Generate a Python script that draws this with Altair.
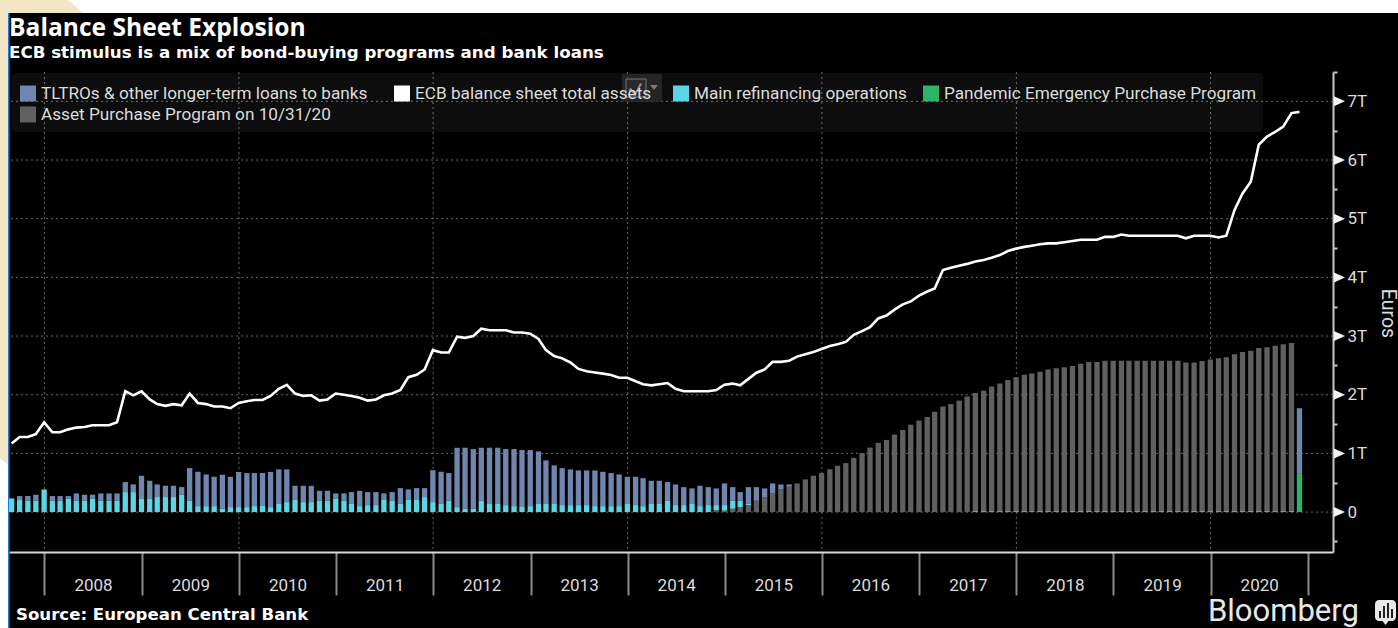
import altair as alt
import pandas as pd

# Monthly observations, trillions of euros, Aug 2007 to Nov 2020
total_assets = [
    1.17, 1.28, 1.28, 1.33, 1.53, 1.36, 1.36, 1.41, 1.44, 1.45, 1.48, 1.48, 1.48, 1.53, 2.06, 1.99,
    2.06, 1.92, 1.84, 1.81, 1.84, 1.82, 2.02, 1.86, 1.84, 1.80, 1.80, 1.77, 1.86, 1.89, 1.91, 1.91,
    1.98, 2.10, 2.17, 2.02, 1.98, 1.99, 1.90, 1.92, 2.02, 2.00, 1.98, 1.95, 1.90, 1.92, 1.99, 2.02,
    2.08, 2.30, 2.34, 2.43, 2.76, 2.72, 2.72, 2.99, 2.97, 3.00, 3.125, 3.10, 3.10, 3.10, 3.06, 3.06,
    3.04, 2.95, 2.76, 2.66, 2.62, 2.55, 2.44, 2.40, 2.38, 2.36, 2.335, 2.29, 2.29, 2.23, 2.18, 2.16,
    2.18, 2.20, 2.10, 2.06, 2.06, 2.06, 2.06, 2.08, 2.17, 2.19, 2.16, 2.27, 2.375, 2.43, 2.56, 2.56,
    2.58, 2.65, 2.69, 2.73, 2.78, 2.83, 2.86, 2.90, 3.02, 3.085, 3.15, 3.30, 3.35, 3.45, 3.54, 3.59,
    3.69, 3.76, 3.81, 4.125, 4.165, 4.20, 4.23, 4.27, 4.295, 4.335, 4.38, 4.45, 4.49, 4.52, 4.54, 4.565,
    4.58, 4.58, 4.60, 4.62, 4.64, 4.64, 4.64, 4.69, 4.69, 4.73, 4.71, 4.71, 4.71, 4.71, 4.71, 4.71,
    4.71, 4.665, 4.71, 4.71, 4.71, 4.68, 4.71, 5.15, 5.43, 5.63, 6.26, 6.40, 6.48, 6.57, 6.80, 6.82,
]
main_refi = [
    .233, .205, .193, .193, .386, .193, .193, .233, .193, .193, .233, .193, .193, .193, .341, .341,
    .233, .233, .256, .256, .256, .295, .193, .102, .102, .102, .057, .085, .085, .085, .102, .102,
    .085, .148, .170, .216, .170, .170, .193, .193, .233, .193, .148, .102, .119, .119, .216, .193,
    .148, .216, .216, .256, .170, .148, .193, .085, .057, .057, .193, .148, .148, .119, .102, .085,
    .102, .148, .148, .148, .119, .119, .119, .119, .102, .102, .102, .102, .148, .119, .102, .148,
    .148, .193, .119, .119, .148, .102, .119, .085, .097, .136, .108, .028,
] + [0.0] * 27 + [0.012] * 40 + [0.0]
longer_term = [
    .000, .068, .080, .102, .000, .080, .080, .040, .125, .102, .063, .125, .125, .125, .170, .131,
    .386, .301, .216, .193, .193, .131, .557, .585, .540, .500, .580, .517, .600, .580, .563, .563,
    .600, .580, .557, .233, .278, .278, .170, .170, .085, .125, .193, .261, .222, .222, .102, .148,
    .261, .170, .193, .153, .545, .540, .472, 1.011, 1.040, 1.017, .903, .949, .949, .955, .972, .972,
    .955, .886, .733, .648, .630, .608, .591, .591, .608, .585, .563, .540, .454, .483, .477, .386,
    .386, .318, .352, .307, .256, .347, .307, .284, .369, .233, .148, .278, .233, .148, .170, .085,
    .040,
] + [0.0] * 62 + [1.105]
asset_purchase = [0.0] * 87 + [
    .034, .023, .057, .085, .119, .193, .256, .318, .386, .432, .489, .557, .619, .665,
    .73, .79, .835, .925, 1.005, 1.10, 1.18, 1.23, 1.32, 1.40, 1.49, 1.56, 1.62, 1.71, 1.80, 1.84,
    1.90, 1.97, 2.03, 2.07, 2.14, 2.19, 2.25, 2.30, 2.34, 2.36, 2.39, 2.43, 2.45, 2.47, 2.49, 2.53,
    2.56, 2.56, 2.58, 2.58, 2.58, 2.58, 2.58, 2.58, 2.58, 2.58, 2.58, 2.58, 2.55, 2.55, 2.575, 2.60,
    2.62, 2.64, 2.69, 2.73, 2.75, 2.795, 2.81, 2.835, 2.86, 2.88, 0.0,
]
pandemic = [0.0] * 159 + [0.665]

legend_labels = [
    "TLTROs & other longer-term loans to banks",
    "ECB balance sheet total assets",
    "Main refinancing operations",
    "Pandemic Emergency Purchase Program",
    "Asset Purchase Program on 10/31/20",
]
year_labels = list(range(2008, 2022))
grid_years = [2008, 2010, 2012, 2014, 2016, 2018, 2020]
grid_levels = [0, 1, 2, 3, 4, 5, 6, 7]

BLUE, WHITE, CYAN, GREEN, GRAY = "#6f87ae", "#ffffff", "#5bd6e6", "#2db36a", "#606060"
legend_colors = [BLUE, WHITE, CYAN, GREEN, GRAY]
GRID = "#6a6a6a"
TEXT = "#dcdcdc"
FONT = "Roboto"

# The plot area sits inside the full frame; helpers translate frame pixels
LEFT, TOP, RIGHT, BOTTOM = 9, 72, 1333, 552


def fx(v):
    return alt.value(v - LEFT)


def fy(v):
    return alt.value(v - TOP)


one_row = alt.Data(values=[{"k": 1}])


def box(x0, y0, x1, y1, color, **kw):
    return alt.Chart(one_row).mark_rect(color=color, **kw).encode(
        x=fx(x0), x2=fx(x1), y=fy(y0), y2=fy(y1)
    )


def label(x, y, text, size=17, weight="normal", color=TEXT, font=FONT, **kw):
    return alt.Chart(one_row).mark_text(
        text=text, fontSize=size, fontWeight=weight, color=color, font=font,
        align=kw.pop("align", "left"), baseline="middle", **kw
    ).encode(x=fx(x), y=fy(y))


def polygon(path, color, x=0, y=0):
    # Custom symbol path at unit scale (size 4), anchored on a frame pixel
    return alt.Chart(one_row).mark_point(
        shape=path, size=4, filled=True, color=color, opacity=1, strokeWidth=0
    ).encode(x=fx(x), y=fy(y))


dates = pd.date_range("2007-08-31", periods=160, freq="ME")
frame = pd.DataFrame({
    "date": dates, "total": total_assets, "mro": main_refi, "ltro": longer_term,
    "app": asset_purchase, "pepp": pandemic,
})

# Stack order from the baseline: APP or PEPP, then MRO, then longer-term loans.
# Once APP is large the remaining MRO sliver is drawn on the baseline over it.
frame["base"] = frame["app"] + frame["pepp"]
frame["mro0"] = frame["base"].where(frame["app"] < 1.0, 0.0)
frame["mro1"] = frame["mro0"] + frame["mro"]
frame["ltro0"] = frame["base"].where(frame["app"] >= 1.0, frame["mro1"])
frame["ltro1"] = frame["ltro0"] + frame["ltro"]
frame["zero"] = 0.0

x_scale = alt.Scale(domain=[alt.DateTime(year=2007, month=8, date=21),
                            alt.DateTime(year=2021, month=4, date=5)], padding=0)
y_scale = alt.Scale(domain=[-0.68, 7.5], nice=False, zero=False, padding=0)

x_axis = alt.Axis(
    values=[alt.DateTime(year=y, month=1, date=1) for y in year_labels],
    labelExpr="year(datum.value) > 2020 ? '' : timeFormat(datum.value, '%Y')",
    title=None, grid=False, orient="bottom",
    domainColor="#d8d8d8", domainWidth=2,
    tickColor="#8a8a8a", tickWidth=2, tickSize=43,
    labelColor=TEXT, labelFont=FONT, labelFontSize=17, labelOffset=48.6,
    labelPadding=-18, labelAlign="center", labelFlush=False, labelOverlap=False,
)
y_axis = alt.Axis(
    values=[v / 2 for v in range(-1, 16)],
    labelExpr="datum.value == 0 ? '0' : (datum.value > 0 && datum.value % 1 == 0 && datum.value < 7.5 ? datum.value + 'T' : '')",
    title="Euros", titleColor=TEXT, titleFont=FONT, titleFontSize=19.5, titleFontWeight="normal",
    titleAngle=90, titleX=54, titleY=241, titleAlign="center", titleBaseline="middle",
    grid=False, orient="right",
    domainColor="#c8c8c8", domainWidth=2,
    tickColor="#c8c8c8", tickWidth=2, tickSize=4,
    labelColor=TEXT, labelFont=FONT, labelFontSize=17, labelPadding=10, labelOverlap=False,
    labelFlush=False,
)

grid_v = alt.Chart(pd.DataFrame({
    "d": [pd.Timestamp(year=y, month=1, day=1) for y in grid_years]
})).mark_rule(color=GRID, strokeDash=[2, 3], strokeWidth=1).encode(
    x=alt.X("d:T", scale=x_scale, axis=x_axis)
)
grid_h = alt.Chart(pd.DataFrame({"v": grid_levels})).mark_rule(
    color=GRID, strokeDash=[2, 3], strokeWidth=1
).encode(y=alt.Y("v:Q", scale=y_scale, axis=y_axis))


def bars(low, high, color):
    return alt.Chart(frame).transform_filter(
        f"datum.{high} > datum.{low}"
    ).mark_bar(width=5.3, color=color, cornerRadius=0).encode(
        x=alt.X("date:T", scale=x_scale, axis=x_axis),
        y=alt.Y(f"{low}:Q", scale=y_scale, axis=y_axis),
        y2=f"{high}:Q",
    )


line = alt.Chart(frame).mark_line(color=WHITE, strokeWidth=2.6, interpolate="linear").encode(
    x=alt.X("date:T", scale=x_scale, axis=x_axis),
    y=alt.Y("total:Q", scale=y_scale, axis=y_axis),
)

# Pointers on the value axis at each whole-trillion level
pointers = alt.Chart(pd.DataFrame({"v": grid_levels})).mark_point(
    shape="M0 -5 L11 0 L0 5 Z", size=4, filled=True, color="#f2f2f2", opacity=1, strokeWidth=0
).encode(x=fx(RIGHT + 1), y=alt.Y("v:Q", scale=y_scale, axis=y_axis))

# Surroundings of the black panel
page = [
    box(0, 0, 1398, 13, "#ffffff"),
    box(0, 13, 8, 628, "#ffffff"),
    polygon("M0 0 L68 0 L83 13 L8 13 L8 465 L0 458 Z", "#f3e6c4", x=0, y=0),
    box(8, 13, 9.5, 628, "#1b7fcf"),
]

legend_rows = [(41, 93.5), (415, 93.5), (694, 93.5), (944, 93.5), (41, 114.5)]
legend_panel = box(12, 73, 1263, 132, "#ffffff", opacity=0.05, cornerRadius=4)
legend = []
for text, color, (tx, ty) in zip(legend_labels, legend_colors, legend_rows):
    legend.append(box(tx - 21, ty - 8, tx - 5, ty + 8, color))
    legend.append(label(tx, ty, text, size=17.2))

# Small chart-type control sitting on the legend
control = [
    box(622, 74, 662, 102, "#2a2a2a", opacity=0.85),
    box(626, 79, 646, 97, "#2a2a2a", stroke="#777777", strokeWidth=1),
    polygon("M0 0 L8 0 L4 5 Z", "#777777", x=650, y=85),
    polygon("M0 0 L2 -1 L6 4 L11 -6 L13 -5 L6 7 L2 2 L0 3 Z", "#8c8c8c", x=629, y=89),
]

titles = [
    label(9, 29, "Balance Sheet Explosion", size=24.6, weight="bold", color="#ffffff", font="Open Sans"),
    label(9, 53, "ECB stimulus is a mix of bond-buying programs and bank loans", size=16.7, weight="bold",
          color="#ffffff", font="DejaVu Sans"),
    label(16, 614.5, "Source: European Central Bank", size=16.6, weight="bold", color="#ffffff", font="DejaVu Sans"),
    label(1208, 612, "Bloomberg", size=31, color="#e8e8e8", font="Roboto"),
]

# Chat-bubble badge beside the wordmark
badge = [
    box(1375, 600, 1396, 621, "#e8e8e8", cornerRadius=4),
    polygon("M-3 0 L3 0 L0 4 Z", "#e8e8e8", x=1385.5, y=621),
    box(1379, 611, 1381, 618, "#202020"),
    box(1383, 606, 1385, 618, "#202020"),
    box(1387, 603, 1389, 618, "#202020"),
    box(1391, 609, 1393, 618, "#202020"),
]

chart = alt.layer(
    *page,
    grid_v,
    grid_h,
    bars("zero", "app", GRAY),
    bars("zero", "pepp", GREEN),
    bars("ltro0", "ltro1", BLUE),
    bars("mro0", "mro1", CYAN),
    line,
    pointers,
    legend_panel,
    *control,
    *legend,
    *titles,
    *badge,
).properties(
    width=RIGHT - LEFT,
    height=BOTTOM - TOP,
    background="#000000",
    padding={"left": LEFT, "top": TOP, "right": 1398 - RIGHT, "bottom": 628 - BOTTOM},
    autosize=alt.AutoSizeParams(type="none"),
).configure_view(stroke=None)

chart.save("out.html", embed_options={"renderer": "svg", "actions": False})
